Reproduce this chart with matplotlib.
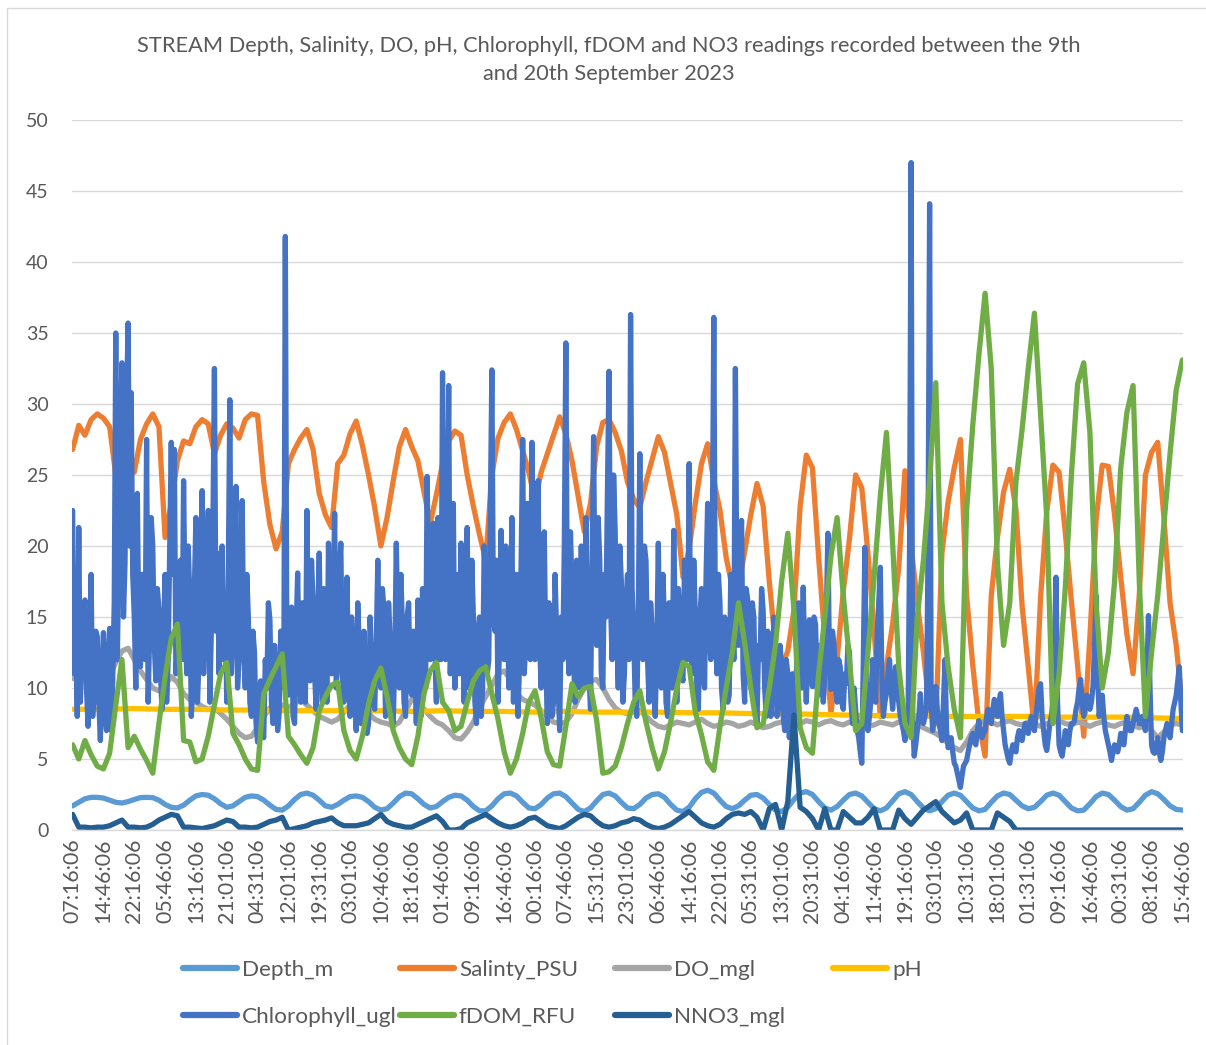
import numpy as np
import matplotlib
matplotlib.use('Agg')
import matplotlib.pyplot as plt
from matplotlib.patches import Rectangle
from matplotlib.lines import Line2D

plt.rcParams['font.family'] = ['Lato', 'DejaVu Sans']

# Etiquetas del eje X (una cada 30 lecturas)
time_labels = [
    '07:16:06', '14:46:06', '22:16:06', '05:46:06', '13:16:06', '21:01:06',
    '04:31:06', '12:01:06', '19:31:06', '03:01:06', '10:46:06', '18:16:06',
    '01:46:06', '09:16:06', '16:46:06', '00:16:06', '07:46:06', '15:31:06',
    '23:01:06', '06:46:06', '14:16:06', '22:01:06', '05:31:06', '13:01:06',
    '20:31:06', '04:16:06', '11:46:06', '19:16:06', '03:01:06', '10:31:06',
    '18:01:06', '01:31:06', '09:16:06', '16:46:06', '00:31:06', '08:16:06',
    '15:46:06',
]

# Series (5 valores por intervalo de etiqueta)
depth_m = [
    1.7, 1.95, 2.2, 2.3, 2.3, 2.25, 2.1, 1.95, 1.9, 2.0,
    2.15, 2.28, 2.3, 2.28, 2.1, 1.8, 1.6, 1.55, 1.75, 2.1,
    2.4, 2.5, 2.45, 2.2, 1.85, 1.6, 1.7, 2.0, 2.3, 2.4,
    2.35, 2.1, 1.75, 1.45, 1.4, 1.7, 2.15, 2.5, 2.6, 2.45,
    2.1, 1.7, 1.6, 1.8, 2.1, 2.35, 2.4, 2.3, 2.0, 1.6,
    1.4, 1.5, 1.9, 2.35, 2.6, 2.55, 2.2, 1.8, 1.55, 1.65,
    2.0, 2.3, 2.45, 2.4, 2.1, 1.65, 1.35, 1.35, 1.7, 2.2,
    2.55, 2.6, 2.4, 1.95, 1.55, 1.5, 1.8, 2.25, 2.55, 2.6,
    2.35, 1.9, 1.45, 1.3, 1.55, 2.05, 2.5, 2.6, 2.4, 1.95,
    1.55, 1.5, 1.8, 2.25, 2.5, 2.55, 2.3, 1.8, 1.4, 1.3,
    1.6, 2.2, 2.65, 2.8, 2.6, 2.1, 1.65, 1.5, 1.7, 2.1,
    2.45, 2.5, 2.25, 1.8, 1.4, 1.3, 1.6, 2.15, 2.6, 2.7,
    2.5, 2.0, 1.55, 1.4, 1.65, 2.1, 2.5, 2.6, 2.4, 1.95,
    1.5, 1.35, 1.55, 2.05, 2.55, 2.7, 2.5, 2.0, 1.55, 1.35,
    1.5, 2.0, 2.45, 2.6, 2.45, 2.0, 1.55, 1.35, 1.45, 1.95,
    2.4, 2.6, 2.5, 2.1, 1.7, 1.5, 1.6, 2.0, 2.45, 2.6,
    2.45, 2.0, 1.55, 1.35, 1.4, 1.85, 2.35, 2.6, 2.5, 2.1,
    1.65, 1.4, 1.5, 1.95, 2.45, 2.7, 2.55, 2.15, 1.7, 1.45,
    1.4,
]

salinity_psu = [
    26.8, 28.5, 27.8, 28.9, 29.3, 29.0, 28.4, 25.0, 19.5, 25.8,
    25.2, 27.5, 28.6, 29.3, 28.4, 20.6, 23.0, 26.0, 27.4, 27.2,
    28.4, 28.9, 28.6, 26.5, 27.8, 28.6, 28.3, 27.6, 28.9, 29.3,
    29.2, 24.5, 21.5, 19.8, 21.0, 25.8, 26.8, 27.6, 28.2, 26.8,
    23.7, 22.2, 21.3, 25.8, 26.4, 27.9, 28.8, 27.1, 25.0, 22.7,
    20.0, 22.0, 24.6, 27.0, 28.2, 27.0, 26.0, 23.8, 21.6, 23.6,
    25.8, 27.4, 28.1, 27.8, 25.0, 22.8, 20.8, 19.0, 25.0, 27.6,
    28.7, 29.3, 28.2, 26.7, 25.2, 23.2, 25.2, 26.5, 27.8, 29.1,
    27.9, 26.0, 23.5, 21.0, 23.0, 27.0, 28.7, 28.9, 28.0, 26.7,
    24.5, 23.3, 22.7, 24.5, 26.1, 27.7, 26.6, 24.4, 22.2, 17.8,
    19.8, 23.0, 25.8, 27.2, 24.6, 22.5, 19.2, 17.1, 17.1, 19.6,
    22.2, 24.4, 22.8, 17.5, 13.0, 11.5, 12.6, 15.5, 22.8, 26.4,
    25.5, 19.2, 13.5, 8.2, 12.0, 16.8, 20.5, 25.0, 24.1, 19.5,
    14.0, 8.0, 11.5, 14.5, 18.5, 25.3, 20.0, 16.0, 12.5, 8.5,
    7.5, 19.5, 23.1, 25.5, 27.5, 16.5, 11.6, 7.5, 5.2, 16.5,
    20.6, 23.8, 25.4, 22.6, 15.8, 11.5, 7.0, 16.4, 22.4, 25.7,
    25.2, 21.0, 16.1, 11.6, 6.6, 13.6, 21.8, 25.7, 25.6, 22.2,
    17.8, 13.8, 11.0, 16.5, 25.0, 26.6, 27.3, 22.0, 16.0, 13.0,
    8.7,
]

do_mgl = [
    10.7, 10.5, 10.9, 11.0, 10.5, 10.3, 10.8, 11.8, 12.6, 12.8,
    12.0, 11.2, 10.6, 10.0, 9.8, 10.2, 10.8, 10.4, 9.6, 9.2,
    9.0, 8.7, 8.5, 8.6, 8.2, 7.8, 7.3, 6.8, 6.5, 6.6,
    7.2, 8.0, 8.6, 9.0, 8.8, 8.6, 8.9, 9.2, 8.8, 8.4,
    8.0, 7.8, 7.6, 7.8, 8.3, 8.8, 9.0, 8.7, 8.2, 7.8,
    7.6, 7.5, 7.3, 7.6, 8.4, 9.2, 9.0, 8.5, 8.0, 7.6,
    7.4, 7.0, 6.5, 6.4, 6.9, 7.6, 8.6, 9.4, 10.2, 11.0,
    11.2, 10.6, 9.6, 9.2, 9.0, 8.8, 8.4, 8.0, 7.6, 7.5,
    7.6, 8.2, 9.2, 10.0, 10.5, 10.6, 10.0, 9.2, 8.6, 8.3,
    8.2, 8.4, 8.4, 8.0, 7.6, 7.3, 7.2, 7.4, 7.6, 7.5,
    7.4, 7.6, 7.8, 7.5, 7.3, 7.4, 7.6, 7.5, 7.3, 7.4,
    7.6, 7.4, 7.2, 7.3, 7.5, 7.6, 7.5, 7.3, 7.5, 7.7,
    7.6, 7.4, 7.6, 7.7, 7.5, 7.4, 7.6, 7.7, 7.5, 7.3,
    7.4, 7.6, 7.5, 7.4, 7.6, 7.5, 7.3, 7.4, 7.2, 7.0,
    6.8, 6.5, 6.1, 5.8, 5.6, 6.2, 7.0, 7.5, 7.7, 7.6,
    7.4, 7.6, 7.7, 7.5, 7.4, 7.6, 7.5, 7.3, 7.5, 7.6,
    7.7, 7.5, 7.4, 7.6, 7.5, 7.3, 7.5, 7.6, 7.4, 7.3,
    7.5, 7.6, 7.4, 7.2, 7.4, 7.0, 6.5, 6.9, 7.4, 7.5,
    7.4,
]

# pH: un valor por etiqueta
ph = [
    8.5, 8.5, 8.55, 8.5, 8.5, 8.45, 8.45, 8.4, 8.4, 8.4,
    8.4, 8.35, 8.4, 8.35, 8.35, 8.3, 8.35, 8.3, 8.3, 8.3,
    8.25, 8.25, 8.2, 8.2, 8.15, 8.1, 8.05, 8.05, 8.0, 8.0,
    8.0, 8.0, 7.95, 7.95, 7.95, 7.9, 7.85,
]

# Clorofila: 20 valores por intervalo de etiqueta
chlorophyll_ugl = [
    22.5, 11, 14.8, 8, 21.3, 9, 12.2, 15, 16.2, 10, 7.3, 13, 18.0, 8, 9.6, 14, 13.6, 9, 6.3, 11,
    13.9, 8, 7.0, 12, 14.2, 7, 10.5, 16, 35.0, 12, 19.5, 28, 32.9, 15, 18.8, 30, 35.7, 20, 30.8, 18,
    15.0, 10, 23.7, 13, 11.5, 18, 17.0, 12, 27.5, 9, 14.0, 22, 20.0, 13, 10.5, 17, 15.5, 11, 8.5, 14,
    18.0, 9, 12.0, 20, 27.3, 18, 26.8, 11, 13.0, 16, 19.0, 12, 24.6, 15, 11.0, 20, 16.5, 8, 10.0, 17,
    22.0, 9, 12.0, 18, 23.9, 11, 15.0, 19, 22.5, 9, 14.0, 21, 32.5, 14, 19.5, 11, 16.2, 20, 12.0, 16,
    9.0, 18, 30.3, 11, 14.0, 19, 24.2, 10, 12.0, 17, 23.2, 13, 10.0, 18, 15.0, 9, 8.0, 14, 12.5, 7.5,
    6.2, 9, 10.5, 7, 6.5, 12, 10.0, 16, 14.8, 9, 7.5, 13, 11.0, 7, 8.2, 14, 12.5, 10, 41.8, 12,
    9.5, 13, 15.7, 8, 7.5, 14, 18.1, 11, 9.0, 16, 14.0, 9, 22.5, 13, 10.5, 19, 16.0, 11, 8.5, 15,
    19.5, 12, 9.0, 17, 14.0, 9, 20.2, 13, 11.0, 16, 22.3, 10, 12.0, 18, 20.2, 11, 9.0, 14, 17.8, 11,
    8.0, 15, 13.0, 9, 7.0, 16, 12.7, 7.5, 8.5, 14, 11.0, 6.8, 7.5, 15, 12.0, 9, 8.5, 13, 19.0, 12,
    10.0, 17, 15.5, 8, 9.0, 16, 13.4, 9, 7.5, 12, 20.2, 14, 10.0, 18, 14.0, 9, 8.0, 15, 16.0, 10,
    9.5, 14, 12.0, 7.5, 16.2, 11, 8.0, 17, 14.0, 10, 24.9, 16, 12.0, 19, 21.6, 13, 9.0, 22, 17.0, 12,
    32.2, 15, 12.0, 20, 31.3, 11, 15.0, 23, 10.0, 16, 18.0, 11, 20.2, 14, 9.0, 17, 21.3, 10, 12.0, 19,
    15.0, 9, 7.5, 14, 15.0, 8, 10.0, 20, 17.0, 11, 12.0, 22, 32.4, 15, 14.0, 19, 9.0, 13, 21.1, 14,
    12.0, 20, 17.0, 10, 14.0, 22, 9.0, 16, 18.0, 8, 12.0, 19, 27.5, 11, 13.0, 23, 20.0, 12, 27.3, 16,
    12.0, 19, 24.6, 13, 10.0, 17, 21.0, 12, 7.5, 16, 15.0, 8, 9.0, 18, 14.0, 10, 7.0, 15, 12.0, 20,
    34.3, 14, 11.0, 21, 17.0, 12, 9.0, 19, 14.0, 10, 20.0, 13, 10.0, 22, 16.0, 11, 8.5, 18, 27.7, 15,
    13.0, 22, 19.0, 11, 10.0, 18, 15.0, 24, 32.3, 16, 12.0, 25, 21.0, 14, 10.0, 20, 17.5, 9, 11.0, 16,
    18.0, 12, 36.3, 17, 14.0, 9, 8.0, 15, 26.5, 13, 12.0, 20, 19.0, 12, 9.0, 16, 14.0, 10, 8.0, 13,
    20.2, 12, 10.0, 18, 14.5, 9, 8.0, 16, 13.0, 10, 21.1, 14, 9.0, 17, 15.0, 11, 10.5, 19, 16.0, 12,
    25.8, 13, 11.0, 19, 15.0, 10, 8.5, 15, 17.0, 11, 10.0, 18, 23.0, 14, 12.0, 20, 36.1, 14, 11.0, 18,
    16.0, 10, 8.5, 15, 14.0, 9, 9.5, 18, 17.0, 12, 32.5, 16, 13.0, 19, 21.8, 11, 9.0, 17, 16.2, 11,
    10.0, 16, 15.0, 9, 7.5, 13, 12.0, 17, 15.5, 10, 8.0, 14, 13.0, 8, 10.0, 15, 12.5, 8, 9.0, 13,
    11.5, 8, 7.0, 12, 11.0, 6.5, 9.0, 11, 5.8, 10, 12.0, 16, 13.9, 10, 17.1, 12, 9.0, 13, 14.8, 11,
    10.1, 15, 14.5, 10, 9.5, 13, 12.0, 9, 10.8, 15, 20.9, 12, 9.9, 14, 13.0, 10, 9.0, 12, 11.5, 9,
    8.5, 11, 10.3, 13, 12.5, 9, 7.5, 10, 8.5, 7, 6.5, 5.5, 4.7, 12, 19.9, 10, 7.0, 8, 9.2, 12,
    11.0, 9, 13.9, 16, 18.5, 11, 8.0, 9, 9.6, 11, 12.0, 10, 8.5, 10, 11.5, 10, 9.0, 8, 7.5, 7,
    6.3, 7, 7.5, 20, 47.0, 8, 5.2, 6, 7.0, 8, 9.6, 8, 7.5, 8, 8.7, 20, 44.1, 9, 7.0, 8,
    10.1, 8.5, 7.5, 7, 6.3, 9, 12.0, 7, 5.8, 6, 6.5, 5.5, 4.7, 4.5, 4.0, 3.5, 3.0, 3.8, 4.5, 4.7,
    4.9, 5.5, 6.0, 6.5, 6.8, 6.2, 6.0, 7, 7.7, 7, 6.5, 6.8, 7.0, 8, 8.5, 8, 7.5, 8.5, 9.2, 8.5,
    8.0, 9, 9.6, 8, 7.0, 6, 5.5, 5, 4.7, 5.5, 6.0, 5.8, 5.5, 6.5, 7.0, 6.5, 6.3, 7, 7.5, 7,
    6.8, 7.5, 8.0, 7.5, 7.0, 8, 9.0, 10, 10.3, 8, 7.0, 6, 5.6, 6.5, 7.5, 8, 9.0, 13, 17.8, 9,
    6.0, 5.5, 5.2, 6, 7.0, 6.5, 6.0, 7, 7.5, 7.5, 7.7, 8.5, 9.0, 10, 10.6, 9, 8.0, 9, 9.5, 9,
    8.5, 9, 10.1, 13, 16.5, 11, 8.0, 9, 9.5, 8, 7.0, 6.5, 6.0, 5.5, 4.9, 5.5, 6.0, 5.8, 5.5, 6,
    6.8, 6.5, 6.0, 7, 8.0, 7.5, 7.0, 7, 7.5, 8, 8.5, 8, 7.5, 7.5, 8.0, 7.5, 7.0, 11, 15.1, 10,
    6.0, 5.5, 5.4, 6, 6.5, 5.5, 4.9, 5.5, 6.5, 7, 7.5, 7, 6.5, 7.5, 8.5, 9, 9.5, 10.5, 11.5, 9,
    7.0,
]

fdom_rfu = [
    6.0, 5.0, 6.3, 5.3, 4.5, 4.3, 5.4, 8.8, 12.0, 5.8,
    6.6, 5.7, 4.9, 4.0, 7.5, 10.8, 13.5, 14.5, 6.3, 6.2,
    4.8, 5.0, 6.6, 8.8, 11.0, 11.8, 6.8, 6.0, 5.0, 4.3,
    4.2, 9.6, 10.6, 11.5, 12.4, 6.6, 6.0, 5.3, 4.7, 5.8,
    8.4, 9.4, 10.2, 10.4, 7.0, 5.6, 5.0, 6.6, 8.9, 10.5,
    11.4, 9.4, 7.0, 5.8, 5.0, 4.6, 6.6, 9.6, 11.2, 11.8,
    9.0, 8.4, 7.0, 7.3, 9.0, 10.5, 11.2, 11.5, 9.6, 7.8,
    5.5, 4.0, 5.0, 6.8, 9.0, 9.8, 7.9, 5.5, 4.6, 4.5,
    7.3, 10.3, 9.4, 10.0, 10.1, 7.7, 4.0, 4.1, 4.5, 5.8,
    7.5, 9.0, 9.8, 7.6, 5.8, 4.3, 5.5, 7.6, 10.0, 11.8,
    11.5, 8.3, 6.7, 4.8, 4.2, 7.3, 10.0, 12.5, 16.0, 13.2,
    10.0, 7.2, 7.5, 10.0, 13.0, 17.5, 20.9, 15.5, 7.2, 5.8,
    5.4, 11.0, 15.0, 19.3, 22.0, 16.5, 12.0, 7.0, 7.5, 12.5,
    17.8, 23.5, 28.0, 20.2, 11.5, 7.5, 6.5, 15.0, 19.0, 24.6,
    31.5, 16.0, 11.5, 8.5, 6.5, 22.5, 28.5, 33.5, 37.8, 32.5,
    18.8, 13.0, 16.0, 24.5, 28.2, 32.5, 36.4, 29.3, 22.0, 7.5,
    11.0, 17.0, 25.0, 31.4, 32.9, 28.0, 16.0, 10.0, 12.5, 17.5,
    25.5, 29.4, 31.3, 17.6, 8.0, 12.5, 16.5, 21.5, 26.5, 31.0,
    33.1,
]

nno3_mgl = [
    1.1, 0.2, 0.2, 0.15, 0.2, 0.2, 0.3, 0.5, 0.7, 0.2,
    0.2, 0.15, 0.2, 0.4, 0.7, 0.9, 1.1, 1.0, 0.2, 0.2,
    0.15, 0.1, 0.2, 0.3, 0.5, 0.7, 0.6, 0.2, 0.2, 0.15,
    0.2, 0.4, 0.6, 0.7, 0.9, 0.0, 0.1, 0.2, 0.3, 0.5,
    0.6, 0.7, 0.85, 0.5, 0.3, 0.3, 0.3, 0.4, 0.5, 0.8,
    1.1, 0.6, 0.4, 0.3, 0.2, 0.2, 0.4, 0.6, 0.8, 1.0,
    0.6, 0.0, 0.0, 0.1, 0.5, 0.7, 0.9, 1.1, 0.8, 0.5,
    0.3, 0.2, 0.3, 0.5, 0.8, 0.9, 0.6, 0.3, 0.2, 0.1,
    0.3, 0.6, 0.9, 1.1, 1.0, 0.6, 0.3, 0.2, 0.3, 0.5,
    0.6, 0.8, 0.7, 0.4, 0.2, 0.1, 0.2, 0.4, 0.7, 1.0,
    1.3, 0.9, 0.5, 0.3, 0.2, 0.4, 0.8, 1.1, 1.2, 1.1,
    1.3, 0.9, 0.0, 1.5, 1.8, 0.0, 2.0, 8.1, 1.6, 1.3,
    0.8, 0.0, 1.5, 0.0, 0.0, 1.3, 0.9, 0.5, 0.5, 0.9,
    1.5, 0.0, 0.0, 0.0, 1.4, 0.8, 0.4, 0.9, 1.4, 1.7,
    2.0, 1.3, 0.9, 0.5, 0.7, 1.2, 0.0, 0.0, 0.0, 0.0,
    1.2, 0.9, 0.6, 0.0, 0.0, 0.0, 0.0, 0.0, 0.0, 0.0,
    0.0, 0.0, 0.0, 0.0, 0.0, 0.0, 0.0, 0.0, 0.0, 0.0,
    0.0, 0.0, 0.0, 0.0, 0.0, 0.0, 0.0, 0.0, 0.0, 0.0,
    0.0,
]

series = [
    ('Depth_m', depth_m, '#5B9BD5'),
    ('Salinty_PSU', salinity_psu, '#ED7D31'),
    ('DO_mgl', do_mgl, '#A5A5A5'),
    ('pH', ph, '#FFC000'),
    ('Chlorophyll_ugl', chlorophyll_ugl, '#4472C4'),
    ('fDOM_RFU', fdom_rfu, '#70AD47'),
    ('NNO3_mgl', nno3_mgl, '#255E91'),
]

W, H = 1206, 1045
TEXT = '#595959'
GRID = '#D9D9D9'
LW = 3.8

fig = plt.figure(figsize=(W / 100, H / 100), dpi=100)
fig.patch.set_facecolor('white')

# Marco del grafico (solo se ven izquierda y arriba)
fig.add_artist(Rectangle((7 / W, -0.5), 1.5, 1.5 - 8 / H, transform=fig.transFigure,
                         fill=False, edgecolor=GRID, linewidth=1.0))

ax = fig.add_axes([72 / W, 215 / H, 1111 / W, 710 / H])

n_lab = len(time_labels) - 1
handles = {}
for name, vals, col in series:
    x = np.linspace(0, n_lab, len(vals))
    ln, = ax.plot(x, vals, color=col, linewidth=LW, solid_joinstyle='round',
                  solid_capstyle='round', label=name)
    handles[name] = ln

ax.set_ylim(0, 50)
ax.set_yticks(np.arange(0, 51, 5))
ax.set_xlim(-0.02, n_lab + 0.02)
ax.set_xticks(np.arange(len(time_labels)))
ax.set_xticklabels(time_labels, rotation=90)

ax.grid(axis='y', color=GRID, linewidth=1.0)
ax.set_axisbelow(True)
for s in ['top', 'right', 'left']:
    ax.spines[s].set_visible(False)
ax.spines['bottom'].set_color(GRID)
ax.spines['bottom'].set_linewidth(1.0)
ax.tick_params(axis='y', length=0, pad=17, labelsize=14, labelcolor=TEXT)
ax.tick_params(axis='x', length=0, pad=6, labelsize=15.3, labelcolor=TEXT)

# Titulo
fig.text(609 / W, 1 - 59.5 / H,
         'STREAM Depth, Salinity, DO, pH, Chlorophyll, fDOM and NO3 readings recorded between the 9th\n'
         'and 20th September 2023',
         ha='center', va='center', fontsize=15.7, color=TEXT, linespacing=1.5)

# Leyenda en columnas fijas, como en Excel
cols = [
    (183, ['Depth_m', 'Chlorophyll_ugl']),
    (400, ['Salinty_PSU', 'fDOM_RFU']),
    (615, ['DO_mgl', 'NNO3_mgl']),
    (833, ['pH']),
]
for xpx, names in cols:
    hs = [Line2D([0], [0], color=handles[nm].get_color(), linewidth=4.5,
                 solid_capstyle='round') for nm in names]
    fig.legend(hs, names, loc='upper left', bbox_to_anchor=(xpx / W, 1 - 960 / H),
               frameon=False, borderpad=0, borderaxespad=0, handlelength=2.4,
               handletextpad=0.22, labelspacing=1.18, fontsize=16.2,
               labelcolor=TEXT)

fig.savefig('out.png', dpi=100, facecolor='white')
